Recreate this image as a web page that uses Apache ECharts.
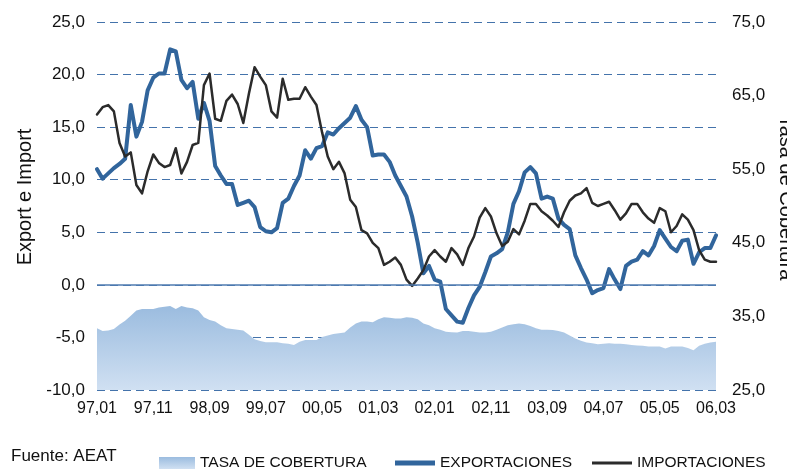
<!DOCTYPE html>
<html>
<head>
<meta charset="utf-8">
<script src="https://cdn.jsdelivr.net/npm/echarts@6/dist/echarts.min.js"></script>
<style>
html,body{margin:0;padding:0;background:#fff;}
#chart{width:787px;height:470px;}
</style>
</head>
<body>
<div id="chart"></div>
<script>
// Months 97,01 .. 06,03
var categories = [];
(function(){
  for (var y = 1997; y <= 2006; y++) {
    for (var m = 1; m <= 12; m++) {
      if (y === 2006 && m > 3) break;
      categories.push(String(y).slice(2) + ',' + (m < 10 ? '0' + m : m));
    }
  }
})();

var exportaciones = [
  11.0,10.1,10.6,11.1,11.5,12.0,17.1,14.1,15.5,18.5,
  19.7,20.1,20.1,22.4,22.2,19.5,18.7,19.3,15.8,17.3,
  15.6,11.3,10.4,9.6,9.6,7.6,7.8,8.0,7.4,5.5,
  5.1,5.0,5.4,7.8,8.2,9.4,10.4,12.8,12.0,13.0,
  13.2,14.5,14.3,14.9,15.4,15.9,17.0,15.7,15.0,12.3,
  12.4,12.4,11.7,10.4,9.4,8.4,6.5,4.0,1.1,1.8,
  0.5,0.3,-2.3,-2.9,-3.5,-3.6,-2.2,-1.0,-0.2,1.2,
  2.7,3.0,3.4,5.0,7.7,8.9,10.7,11.2,10.6,8.2,
  8.4,8.2,6.3,5.7,5.3,2.8,1.6,0.5,-0.8,-0.5,
  -0.3,1.5,0.5,-0.4,1.8,2.2,2.4,3.2,2.8,3.7,
  5.2,4.4,3.6,3.2,4.2,4.3,2.0,3.1,3.5,3.5,
  4.7
];

var importaciones = [
  16.2,16.9,17.1,16.5,13.5,12.2,12.6,9.5,8.7,10.8,
  12.4,11.6,11.2,11.4,13.0,10.6,11.7,13.3,13.5,19.0,
  20.1,15.8,15.6,17.5,18.1,17.2,15.4,18.2,20.7,19.8,
  19.0,16.5,15.9,19.6,17.6,17.7,17.7,18.8,17.9,17.1,
  14.5,12.2,11.0,11.7,10.6,8.1,7.4,5.2,4.9,4.0,
  3.5,1.9,2.2,2.6,1.9,0.5,-0.1,0.6,1.4,2.7,
  3.3,2.7,2.2,3.5,2.9,1.9,3.5,4.6,6.4,7.3,
  6.5,4.9,3.7,4.1,5.3,4.8,6.1,7.7,7.7,7.0,
  6.6,6.1,5.5,6.9,8.0,8.5,8.7,9.2,7.8,7.5,
  7.7,7.9,7.1,6.2,6.8,7.7,7.7,6.9,6.3,5.9,
  7.3,7.0,5.0,5.6,6.7,6.2,5.2,3.3,2.4,2.2,
  2.2
];

var tasaCobertura = [
  33.4,33.0,33.1,33.3,33.9,34.4,35.1,35.8,36.0,36.0,
  36.0,36.2,36.3,36.4,36.0,36.4,36.2,36.1,35.8,34.9,
  34.5,34.3,33.8,33.4,33.3,33.2,33.1,32.5,31.9,31.65,
  31.5,31.5,31.5,31.35,31.3,31.1,31.55,31.8,31.8,31.8,
  32.2,32.4,32.6,32.7,32.8,33.5,34.05,34.3,34.3,34.2,
  34.6,34.9,34.8,34.7,34.7,34.9,34.8,34.6,34.05,33.8,
  33.4,33.2,32.9,32.85,32.8,33.0,33.0,32.9,32.8,32.8,
  32.9,33.2,33.5,33.8,33.95,34.05,33.95,33.7,33.4,33.2,
  33.2,33.15,33.0,32.8,32.4,32.0,31.7,31.45,31.35,31.2,
  31.3,31.35,31.3,31.3,31.2,31.1,31.05,31.0,30.9,30.9,
  30.9,30.65,30.9,30.9,30.9,30.7,30.4,31.0,31.3,31.45,
  31.55
];

var FONT = '"Liberation Sans", Arial, sans-serif';
function fmt(v){ return v.toFixed(1).replace('.', ','); }

var areaGradient = new echarts.graphic.LinearGradient(0, 0, 0, 1, [
  {offset: 0, color: '#9bbcdf'},
  {offset: 1, color: '#d0e0f2'}
]);

var chart = echarts.init(document.getElementById('chart'), null, {renderer: 'canvas'});
chart.setOption({
  animation: false,
  backgroundColor: '#ffffff',
  textStyle: {fontFamily: FONT},
  title: {
    text: 'Fuente: AEAT',
    left: 11, top: 448,
    padding: 0,
    textStyle: {fontFamily: FONT, fontSize: 17, fontWeight: 'normal', color: '#111'}
  },
  legend: [
    {
      data: [{name: 'TASA DE COBERTURA', icon: 'rect'}],
      left: 159, top: 455,
      itemWidth: 36, itemHeight: 12, padding: 0,
      textStyle: {fontFamily: FONT, fontSize: 15.5, color: '#111'}
    },
    {
      data: [{name: 'EXPORTACIONES', icon: 'rect'}],
      left: 395, top: 455,
      itemWidth: 40, itemHeight: 5, padding: 0,
      textStyle: {fontFamily: FONT, fontSize: 15.5, color: '#111'}
    },
    {
      data: [{name: 'IMPORTACIONES', icon: 'rect'}],
      left: 592, top: 455,
      itemWidth: 40, itemHeight: 3, padding: 0,
      textStyle: {fontFamily: FONT, fontSize: 15.5, color: '#111'}
    }
  ],
  grid: {left: 97, right: 71, top: 22, bottom: 80, containLabel: false, outerBoundsMode: 'none'},
  xAxis: {
    type: 'category',
    data: categories,
    boundaryGap: false,
    axisLine: {show: false},
    axisTick: {show: false},
    axisLabel: {
      interval: 9, margin: 11,
      fontFamily: FONT, fontSize: 16, color: '#111'
    },
    splitLine: {show: false}
  },
  yAxis: [
    {
      type: 'value',
      min: -10, max: 25, interval: 5,
      name: 'Export e Import',
      nameLocation: 'middle',
      nameGap: 59,
      nameTextStyle: {fontFamily: FONT, fontSize: 20, color: '#111', padding: [0, 0, 0, 18]},
      axisLine: {show: false},
      axisTick: {show: false},
      axisLabel: {formatter: fmt, margin: 12, fontFamily: FONT, fontSize: 17, color: '#111'},
      splitLine: {show: true, lineStyle: {color: '#4473ab', width: 1, type: [8, 5]}}
    },
    {
      type: 'value',
      min: 25, max: 75, interval: 10,
      position: 'right',
      name: 'Tasa de Cobertura',
      nameLocation: 'middle',
      nameRotate: -90,
      nameGap: 55,
      nameTextStyle: {fontFamily: FONT, fontSize: 20, color: '#111', padding: [0, 16, 0, 0]},
      axisLine: {show: false},
      axisTick: {show: false},
      axisLabel: {formatter: fmt, margin: 16, fontFamily: FONT, fontSize: 17, color: '#111'},
      splitLine: {show: false}
    }
  ],
  series: [
    {
      name: 'TASA DE COBERTURA',
      type: 'line',
      yAxisIndex: 1,
      data: tasaCobertura,
      symbol: 'none',
      lineStyle: {width: 0, color: '#9bbcdf'},
      itemStyle: {color: areaGradient},
      areaStyle: {color: areaGradient, opacity: 1, origin: 'start'},
      z: 1
    },
    {
      name: 'EXPORTACIONES',
      type: 'line',
      yAxisIndex: 0,
      data: exportaciones,
      symbol: 'none',
      itemStyle: {color: '#31659c'},
      lineStyle: {width: 4, color: '#31659c', join: 'round', cap: 'round'},
      markLine: {
        silent: true,
        symbol: 'none',
        label: {show: false},
        lineStyle: {color: '#4f7bb0', width: 1.5, type: 'solid'},
        data: [{yAxis: 0}]
      },
      z: 3
    },
    {
      name: 'IMPORTACIONES',
      type: 'line',
      yAxisIndex: 0,
      data: importaciones,
      symbol: 'none',
      itemStyle: {color: '#2b2b2b'},
      lineStyle: {width: 2.5, color: '#2b2b2b', join: 'round', cap: 'round'},
      z: 4
    }
  ]
});
</script>
</body>
</html>
